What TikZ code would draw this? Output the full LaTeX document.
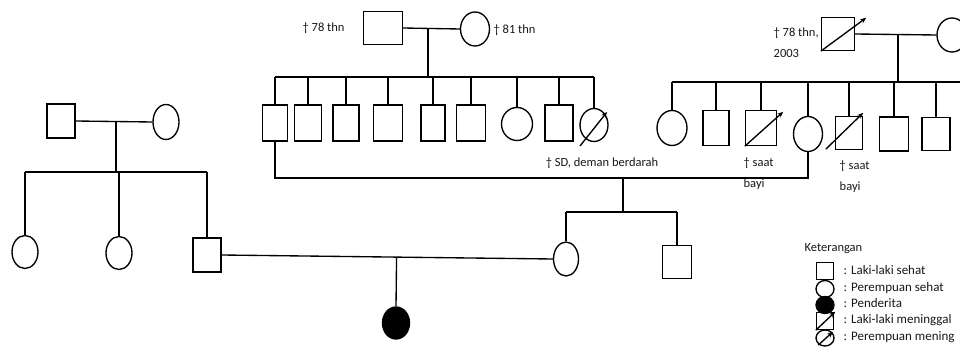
\documentclass[tikz,border=0pt]{standalone}
\usepackage{fontspec}
\setmainfont{Carlito}
\usetikzlibrary{shapes.geometric,arrows.meta,calc}
\begin{document}
\begin{tikzpicture}[x=1pt,y=-1pt,line width=1.35pt,
  male/.style 2 args={draw,rectangle,inner sep=0pt,minimum width=#1pt,minimum height=#2pt},
  female/.style 2 args={draw,ellipse,inner sep=0pt,minimum width=#1pt,minimum height=#2pt},
  lbl/.style={font=\fontsize{12.5}{14}\selectfont,inner sep=0pt,text=black!90},
  lgd/.style={font=\fontsize{13}{15}\selectfont,inner sep=0pt,text=black!90,anchor=west},
  dec/.style={-{Stealth[length=6pt,width=5pt]}}]
\useasboundingbox (0,0) rectangle (960,347);
\clip (0,0) rectangle (960,347);
\fill[white] (0,0) rectangle (960,347);

% ---------- top family A ----------
\node[male={39}{33}] (gfA) at (383,28) {};
\node[female={29}{34}] (gmA) at (475,29) {};
\node[lbl,anchor=west] (tA1) at (302,28) {† 78 thn};
\node[lbl,anchor=west] (tA2) at (493,30) {† 81 thn};
\node[male={25}{36}] (c1) at (275,123) {};
\node[male={27}{36}] (c2) at (308,123) {};
\node[male={26}{36}] (c3) at (346,123) {};
\node[male={29}{36}] (c4) at (388,123) {};
\node[male={24}{36}] (c5) at (433,123) {};
\node[male={29}{36}] (c6) at (471,123) {};
\node[female={31}{33}] (c7) at (517,124) {};
\node[male={28}{36}] (c8) at (559,123) {};
\node[female={28}{33}] (c9) at (594,125) {};
\draw[dec] (580,146) -- (607,112);
\node[lbl] (tc9) at (602,163) {† SD, deman berdarah};

\draw (gfA.east) -- (gmA.west);
\coordinate (mA) at (428,28);
\coordinate (sA) at (428,77);
\draw (mA) -- (sA);
\draw (c1.north |- sA) -- (c9.north |- sA);
\foreach \n in {c1,c2,c3,c4,c5,c6,c7,c8,c9} \draw (\n.north |- sA) -- (\n.north);

% ---------- right family B ----------
\node[male={33}{33}] (gfB) at (838,34) {};
\draw[dec] (gfB.south west) -- ($(gfB.north east)+(11,1)$);
\node[female={30}{34}] (gmB) at (952,35) {};
\node[lbl,anchor=west] (tB1) at (773,33) {† 78 thn,};
\node[lbl,anchor=west] (tB2) at (773,53) {2003};
\node[female={30}{35}] (d1) at (672,128) {};
\node[male={26}{35}] (d2) at (716,128) {};
\node[male={31}{35}] (d3) at (761,128) {};
\draw[dec] (d3.south west) -- ($(d3.north east)+(6,2)$);
\node[female={29}{35}] (d4) at (808,134) {};
\node[male={27}{33}] (d5) at (849,133) {};
\draw[dec] ($(d5.south west)+(-9,-1)$) -- ($(d5.north east)+(0,-3)$);
\node[male={29}{34}] (d6) at (894,134) {};
\node[male={28}{33}] (d7) at (936,134) {};
\node[lbl,anchor=west] (td3a) at (743,163) {† saat};
\node[lbl,anchor=west] (td3b) at (743,184) {bayi};
\node[lbl,anchor=west] (td5a) at (839,166) {† saat};
\node[lbl,anchor=west] (td5b) at (839,187) {bayi};

\draw (gfB.east) -- (gmB.west);
\coordinate (mB) at (898,35);
\coordinate (sB) at (898,82);
\coordinate (sBend) at (960,82);
\draw (mB) -- (sB);
\draw (d1.north |- sB) -- (sBend);
\foreach \n in {d1,d2,d3,d4,d5,d6,d7} \draw (\n.north |- sB) -- (\n.north);

% ---------- marriage c1 x d4 ----------
\coordinate (mC) at (623,178);
\coordinate (sC) at (623,212);
\draw (c1.south) |- (mC) -| (d4.south);
\draw (mC) -- (sC);
\node[female={25}{34}] (e1) at (566,259) {};
\node[male={29}{33}] (e2) at (677,262) {};
\draw (e1.north |- sC) -- (e2.north |- sC);
\foreach \n in {e1,e2} \draw (\n.north |- sC) -- (\n.north);

% ---------- left family L ----------
\node[male={28}{34}] (gfL) at (61,121) {};
\node[female={26}{35}] (gmL) at (166,122) {};
\coordinate (mL) at (116,122);
\coordinate (sL) at (116,172);
\draw (gfL.east) -- (gmL.west);
\draw (mL) -- (sL);
\node[female={26}{33}] (f1) at (25,252) {};
\node[female={26}{33}] (f2) at (119,253) {};
\node[male={28}{34}] (f3) at (207,255) {};
\draw (f1.north |- sL) -- (f3.north |- sL);
\foreach \n in {f1,f2,f3} \draw (\n.north |- sL) -- (\n.north);

% ---------- proband ----------
\node[female={27}{32},fill=black] (p) at (396,323) {};
\draw (f3.east) -- (e1.west);
\coordinate (mD) at ($(f3.east)!(p.north)!(e1.west)$);
\draw (mD) -- (p.north);

% ---------- legend ----------
\node[lbl,anchor=west,font=\fontsize{12.5}{14}\selectfont] (leg) at (804,249) {Keterangan};
\node[male={17}{17}] (l1) at (825,271) {};
\node[female={18}{17}] (l2) at (825,289) {};
\node[female={18}{17},fill=black] (l3) at (825,305) {};
\node[male={17}{17}] (l4) at (825,321) {};
\draw[dec] (l4.south west) -- ($(l4.north east)+(1,0)$);
\node[female={18}{16}] (l5) at (825,338) {};
\draw[dec] ($(l5.south west)+(0,1)$) -- ($(l5.north east)+(1,0)$);
\node[lgd] (lt1) at (843,270) {: Laki-laki sehat};
\node[lgd] (lt2) at (843,288) {: Perempuan sehat};
\node[lgd] (lt3) at (843,303) {: Penderita};
\node[lgd] (lt4) at (843,320) {: Laki-laki meninggal};
\node[lgd] (lt5) at (843,337) {: Perempuan mening};
\end{tikzpicture}
\end{document}
